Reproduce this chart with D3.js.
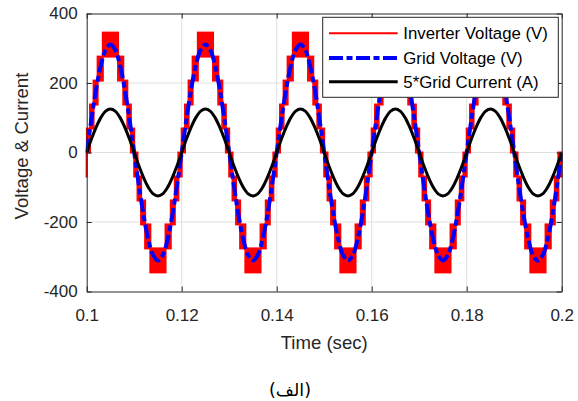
<!DOCTYPE html>
<html>
<head>
<meta charset="utf-8">
<script src="https://cdn.jsdelivr.net/npm/d3@7"></script>
<style>
  html, body { margin: 0; padding: 0; background: #fff; }
  svg { display: block; font-family: "Liberation Sans", Arial, Helvetica, sans-serif; }
</style>
</head>
<body>
<svg id="chart" width="578" height="401"></svg>
<script>
// ---- data -------------------------------------------------------------
// Sample instants (s), one every millisecond.
const sampleTimes = [
  0.100,0.101,0.102,0.103,0.104,0.105,0.106,0.107,0.108,0.109,
  0.110,0.111,0.112,0.113,0.114,0.115,0.116,0.117,0.118,0.119,
  0.120,0.121,0.122,0.123,0.124,0.125,0.126,0.127,0.128,0.129,
  0.130,0.131,0.132,0.133,0.134,0.135,0.136,0.137,0.138,0.139,
  0.140,0.141,0.142,0.143,0.144,0.145,0.146,0.147,0.148,0.149,
  0.150,0.151,0.152,0.153,0.154,0.155,0.156,0.157,0.158,0.159,
  0.160,0.161,0.162,0.163,0.164,0.165,0.166,0.167,0.168,0.169,
  0.170,0.171,0.172,0.173,0.174,0.175,0.176,0.177,0.178,0.179,
  0.180,0.181,0.182,0.183,0.184,0.185,0.186,0.187,0.188,0.189,
  0.190,0.191,0.192,0.193,0.194,0.195,0.196,0.197,0.198,0.199,
  0.200
];

// Grid voltage (V) at each sample instant.
const gridVoltage = [
  0,96,183,252,296,311,296,252,183,96,0,-96,-183,-252,-296,-311,-296,-252,-183,-96,
  0,96,183,252,296,311,296,252,183,96,0,-96,-183,-252,-296,-311,-296,-252,-183,-96,
  0,96,183,252,296,311,296,252,183,96,0,-96,-183,-252,-296,-311,-296,-252,-183,-96,
  0,96,183,252,296,311,296,252,183,96,0,-96,-183,-252,-296,-311,-296,-252,-183,-96,
  0,96,183,252,296,311,296,252,183,96,0,-96,-183,-252,-296,-311,-296,-252,-183,-96,
  0
];

// Grid current scaled by 5 (A) at each sample instant.
const gridCurrent5x = [
  0,39,73,101,119,125,119,101,73,39,0,-39,-73,-101,-119,-125,-119,-101,-73,-39,
  0,39,73,101,119,125,119,101,73,39,0,-39,-73,-101,-119,-125,-119,-101,-73,-39,
  0,39,73,101,119,125,119,101,73,39,0,-39,-73,-101,-119,-125,-119,-101,-73,-39,
  0,39,73,101,119,125,119,101,73,39,0,-39,-73,-101,-119,-125,-119,-101,-73,-39,
  0,39,73,101,119,125,119,101,73,39,0,-39,-73,-101,-119,-125,-119,-101,-73,-39,
  0
];

// Multilevel inverter output: DC voltage levels (V) of one polarity.
const inverterLevels = [0, 69, 138, 207, 276, 345];
// Instants, measured from the start of a half cycle (s), where the output
// enters (rising) and leaves (falling) each level band.
const bandEnter = [0.0000, 0.0007, 0.00145, 0.0023, 0.0034];
const bandLeave = [0.0100, 0.0093, 0.00855, 0.0077, 0.0066];
// Half cycles of the inverter output and their polarity.
const halfCycleStarts   = [0.09, 0.10, 0.11, 0.12, 0.13, 0.14, 0.15, 0.16, 0.17, 0.18, 0.19];
const halfCyclePolarity = [-1, 1, -1, 1, -1, 1, -1, 1, -1, 1, -1];

// Axes
const xTicks = [0.1, 0.12, 0.14, 0.16, 0.18, 0.2];
const xTickLabels = ["0.1", "0.12", "0.14", "0.16", "0.18", "0.2"];
const yTicks = [-400, -200, 0, 200, 400];
const yTickLabels = ["-400", "-200", "0", "200", "400"];

const seriesNames = ["Inverter Voltage (V)", "Grid Voltage (V)", "5*Grid Current (A)"];
const seriesColors = ["#ff0000", "#0000ff", "#000000"];

// ---- layout -----------------------------------------------------------
const plot = { left: 86.7, right: 561.7, top: 13.5, bottom: 291.5 };
const axisColor = "#262626";
const tickFont = 17;

const svg = d3.select("#chart");
const x = d3.scaleLinear().domain([0.1, 0.2]).range([plot.left, plot.right]);
const y = d3.scaleLinear().domain([-400, 400]).range([plot.bottom, plot.top]);

// grid lines
const grid = svg.append("g").attr("stroke", "#e0e0e0").attr("stroke-width", 1);
grid.selectAll("line.gx")
  .data(xTicks.slice(1, -1)).join("line")
  .attr("x1", d => x(d)).attr("x2", d => x(d))
  .attr("y1", plot.top).attr("y2", plot.bottom);
grid.selectAll("line.gy")
  .data(yTicks.slice(1, -1)).join("line")
  .attr("x1", plot.left).attr("x2", plot.right)
  .attr("y1", d => y(d)).attr("y2", d => y(d));

// clipped data layer
svg.append("defs").append("clipPath").attr("id", "plotClip")
  .append("rect")
  .attr("x", plot.left - 1).attr("y", plot.top - 3)
  .attr("width", plot.right - plot.left + 2).attr("height", plot.bottom - plot.top + 6);
const data = svg.append("g").attr("clip-path", "url(#plotClip)");

// inverter voltage: PWM switching between adjacent levels while the
// output sits in a band (dense pulses render as solid blocks)
const bands = [];
halfCycleStarts.forEach((t0, i) => {
  const s = halfCyclePolarity[i];
  const last = bandEnter.length - 1;
  for (let b = 0; b <= last; b++) {
    const a = s * inverterLevels[b], c = s * inverterLevels[b + 1];
    const lo = Math.min(a, c), hi = Math.max(a, c);
    if (b === last) {
      bands.push({ t0: t0 + bandEnter[b], t1: t0 + bandLeave[b], lo, hi });
    } else {
      bands.push({ t0: t0 + bandEnter[b], t1: t0 + bandEnter[b + 1], lo, hi });
      bands.push({ t0: t0 + bandLeave[b + 1], t1: t0 + bandLeave[b], lo, hi });
    }
  }
});
data.append("g")
  .selectAll("rect").data(bands).join("rect")
  .attr("x", d => x(d.t0)).attr("width", d => x(d.t1) - x(d.t0))
  .attr("y", d => y(d.hi)).attr("height", d => y(d.lo) - y(d.hi))
  .attr("fill", seriesColors[0]).attr("stroke", seriesColors[0]).attr("stroke-width", 2);

const line = vals => d3.line()
  .x((d, i) => x(sampleTimes[i]))
  .y(d => y(d))
  .curve(d3.curveCatmullRom)(vals);

data.append("path").attr("d", line(gridVoltage))
  .attr("fill", "none").attr("stroke", seriesColors[1]).attr("stroke-width", 4)
  .attr("stroke-dasharray", "14 3.5 6 3.5");

data.append("path").attr("d", line(gridCurrent5x))
  .attr("fill", "none").attr("stroke", seriesColors[2]).attr("stroke-width", 3);

// axes (ticks inside the box)
const fmtX = d => xTickLabels[xTicks.indexOf(d)];
const fmtY = d => yTickLabels[yTicks.indexOf(d)];

function styleAxis(g) {
  g.selectAll(".domain").attr("stroke", axisColor);
  g.selectAll(".tick line").attr("stroke", axisColor);
  g.selectAll(".tick text").attr("fill", axisColor).style("font-size", tickFont + "px");
  g.attr("font-family", null);
}

svg.append("g").attr("transform", `translate(0,${plot.bottom})`)
  .call(d3.axisBottom(x).tickValues(xTicks).tickFormat(fmtX).tickSizeInner(-5).tickSizeOuter(0).tickPadding(17))
  .call(styleAxis);
svg.append("g").attr("transform", `translate(0,${plot.top})`)
  .call(d3.axisTop(x).tickValues(xTicks).tickFormat("").tickSizeInner(-5).tickSizeOuter(0))
  .call(styleAxis);
svg.append("g").attr("transform", `translate(${plot.left},0)`)
  .call(d3.axisLeft(y).tickValues(yTicks).tickFormat(fmtY).tickSizeInner(-5).tickSizeOuter(0).tickPadding(9))
  .call(styleAxis);
svg.append("g").attr("transform", `translate(${plot.right},0)`)
  .call(d3.axisRight(y).tickValues(yTicks).tickFormat("").tickSizeInner(-5).tickSizeOuter(0))
  .call(styleAxis);

// axis titles
svg.append("text")
  .attr("x", (plot.left + plot.right) / 2).attr("y", 348.5)
  .attr("text-anchor", "middle").attr("fill", axisColor)
  .style("font-size", "18.6px").text("Time (sec)");
svg.append("text")
  .attr("transform", "translate(28,146) rotate(-90)")
  .attr("text-anchor", "middle").attr("fill", axisColor)
  .style("font-size", "18.6px").text("Voltage & Current");

// legend
const legend = svg.append("g").attr("transform", "translate(322.7,17.3)");
legend.append("rect").attr("width", 235.6).attr("height", 80)
  .attr("fill", "#fff").attr("stroke", axisColor).attr("stroke-width", 1);
const rows = [16, 40.7, 64.4];
const legendStyles = [
  { w: 2, dash: null },
  { w: 4, dash: "14 3.5 6 3.5" },
  { w: 3, dash: null }
];
seriesNames.forEach((name, i) => {
  legend.append("line")
    .attr("x1", 6.3).attr("x2", 75).attr("y1", rows[i]).attr("y2", rows[i])
    .attr("stroke", seriesColors[i]).attr("stroke-width", legendStyles[i].w)
    .attr("stroke-dasharray", legendStyles[i].dash);
  legend.append("text")
    .attr("x", 80.6).attr("y", rows[i]).attr("dy", "0.35em")
    .attr("fill", "#000").style("font-size", "16.8px").text(name);
});

// caption
svg.append("text")
  .attr("x", 290).attr("y", 396)
  .attr("text-anchor", "middle").attr("direction", "rtl")
  .style("font-family", "'DejaVu Sans', sans-serif").style("font-size", "17.5px")
  .attr("fill", "#000").text("(الف)");
</script>
</body>
</html>
